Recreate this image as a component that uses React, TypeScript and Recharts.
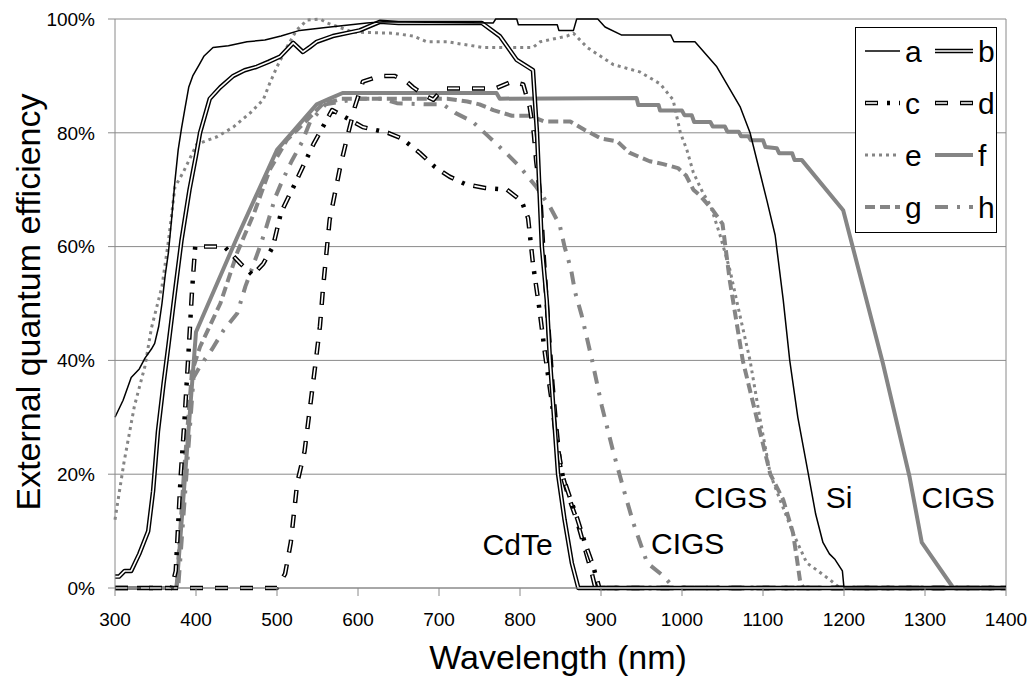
import { LineChart, Line, XAxis, YAxis, CartesianGrid, ReferenceLine, ReferenceDot } from 'recharts';

// wavelength (nm) / external quantum efficiency (%) pairs
const aWl = [300, 310, 320, 330, 337, 345, 349, 354, 358, 362, 366, 370, 374, 378, 382, 386, 391, 396, 404, 410, 421, 440, 463, 485, 505, 528, 560, 611, 631, 767, 770, 796, 798, 846, 848, 866, 870, 896, 905, 925, 986, 990, 1016, 1043, 1072, 1084, 1105, 1115, 1125, 1133, 1143, 1156, 1165, 1174, 1182, 1189, 1198, 1200, 1300, 1400];
const aEqe = [30, 33, 37, 38.5, 40.4, 42, 43, 46, 50, 55, 59, 65, 71.5, 77, 80.7, 84, 88, 90, 92, 93.5, 95, 95.3, 96, 96.3, 97, 98, 98.5, 99.3, 99.5, 99.3, 100, 100, 99, 99, 98, 98, 100, 100, 98.6, 97.2, 97.2, 96, 96, 91.6, 84.5, 80, 68, 62, 50.6, 40, 30, 20, 13, 8, 6, 5, 3, 0, 0, 0];

const bWl = [300, 305, 312, 320, 330, 341, 347, 353, 360, 366, 374, 382, 392, 400, 405, 417, 430, 446, 460, 475, 490, 504, 520, 532, 540, 549, 569, 602, 627, 650, 753, 775, 796, 816, 821, 827, 833, 837, 847, 855, 864, 872, 1000, 1100, 1200, 1300, 1400];
const bEqe = [2, 2, 3, 3, 6, 10, 17, 27.5, 36, 42.7, 52, 61, 70, 76, 80, 86, 88, 90, 91, 91.6, 92.5, 93.4, 95.8, 94.2, 95, 96, 97, 98, 99.5, 99.3, 99.3, 97, 92.8, 91, 80, 60, 50.6, 40, 20, 12, 4.4, 0, 0, 0, 0, 0, 0];

const cWl = [300, 370, 375, 381, 386, 391, 395, 399, 435, 455, 470, 483, 495, 505, 522, 545, 568, 586, 606, 637, 654, 676, 695, 713, 732, 757, 784, 802, 810, 816, 824, 831, 839, 845, 853, 870, 880, 890, 898, 1000, 1100, 1200, 1300, 1400];
const cEqe = [0, 0, 3, 19.5, 30, 42, 52, 60, 60, 57, 55, 57, 60, 66, 71, 78, 84, 82.6, 81, 80, 79, 76.5, 74, 72.3, 71, 70.3, 70, 68, 65, 57, 49, 41, 33, 26, 19.5, 12.5, 8, 4, 0, 0, 0, 0, 0, 0];

const dWl = [300, 500, 510, 517, 525, 534, 541, 548, 553, 557, 565, 578, 588, 596, 606, 627, 645, 660, 668, 682, 693, 705, 717, 770, 790, 804, 812, 817, 820, 825, 829, 833, 840, 845, 850, 860, 870, 880, 888, 893, 1000, 1100, 1200, 1300, 1400];
const dEqe = [0, 0, 2.5, 8, 18.5, 24, 32, 40, 46, 53, 64.7, 74, 80, 84.5, 89, 90, 90, 89, 88, 86.6, 85.8, 87.8, 87.8, 87.8, 89, 88.5, 84.5, 80, 75, 69, 59, 50, 36, 28, 21, 16, 12, 7, 3, 0, 0, 0, 0, 0, 0];

const eWl = [300, 311, 324, 337, 345, 358, 366, 374, 384, 401, 426, 446, 467, 483, 491, 500, 512, 524, 537, 553, 562, 594, 643, 668, 685, 710, 754, 816, 825, 858, 866, 883, 915, 948, 973, 989, 998, 1006, 1014, 1026, 1035, 1047, 1059, 1072, 1084, 1096, 1109, 1121, 1137, 1154, 1166, 1183, 1195, 1300, 1400];
const eEqe = [12, 22, 32, 39, 45.7, 53, 61, 70.5, 73, 78, 79.3, 81, 83.5, 85.8, 88.7, 91.6, 95, 98, 99.8, 100, 99.3, 97.7, 97.5, 97, 96, 96, 95, 95, 96, 97, 97.5, 95, 92, 90.7, 88.6, 85.8, 80, 77, 73, 69.4, 67.3, 62, 56, 47.6, 40, 30, 20, 15.5, 9.7, 4.4, 3.2, 1.4, 0, 0, 0];

const fWl = [300, 376, 400, 451, 500, 549, 565, 581, 771, 775, 944, 946, 971, 973, 1000, 1003, 1012, 1015, 1035, 1038, 1053, 1056, 1070, 1073, 1082, 1085, 1100, 1103, 1117, 1120, 1136, 1139, 1148, 1199, 1248, 1281, 1296, 1335, 1400];
const fEqe = [0, 0, 45, 61.7, 77, 85, 86, 87, 87, 86, 86.1, 84.9, 84.9, 83.9, 83.9, 83.1, 83.1, 81.9, 81.9, 81.1, 81.1, 80.2, 80.2, 79.4, 79.4, 78.7, 78.7, 77.5, 77.3, 76.4, 76.4, 75.2, 75.2, 66.4, 39.5, 19.5, 8, 0, 0];

const gWl = [300, 376, 385, 395, 405, 430, 451, 472, 491, 512, 541, 556, 580, 710, 735, 750, 767, 790, 812, 830, 862, 880, 900, 920, 935, 960, 977, 995, 1005, 1014, 1022, 1038, 1050, 1059, 1075, 1092, 1109, 1125, 1137, 1142, 1146, 1150, 1400];
const gEqe = [0, 0, 20, 38, 42.4, 50, 59, 66, 73.5, 78.7, 82.8, 85, 86, 86, 85.5, 85, 84, 83, 83, 82, 82, 80.5, 79, 78.5, 76.5, 75, 74.5, 73.8, 72.5, 70, 69, 66.4, 64, 54, 40, 30, 20, 15.5, 9.7, 5, 1, 0, 0];

const hWl = [300, 378, 397, 405, 420, 434, 451, 461, 479, 487, 498, 506, 518, 531, 541, 560, 600, 630, 648, 685, 705, 720, 741, 760, 781, 800, 820, 837, 849, 855, 863, 868, 876, 889, 901, 915, 930, 940, 957, 978, 990, 1400];
const hEqe = [0, 0, 37, 39, 42, 45.3, 48.3, 53, 60, 63.5, 68.7, 71.4, 75, 78.4, 82, 85, 86, 86, 85.2, 85, 85, 83.5, 82, 79.5, 76.7, 74, 70.5, 67, 63.8, 60, 56, 52, 48, 40, 32, 24, 16.3, 11.4, 4.4, 2, 0, 0];

const xTicks = [300, 400, 500, 600, 700, 800, 900, 1000, 1100, 1200, 1300, 1400];
const yTicks = [0, 20, 40, 60, 80, 100];
const cellLabels = ['CdTe', 'CIGS', 'CIGS', 'Si', 'CIGS'];

const BLACK = '#000';
const GRAY = '#858585';
const AXIS = '#8a8a8a';
const FONT = '"Liberation Sans", Arial, sans-serif';

type Stroke = { color: string; width: number; dash?: string; offset?: number };
type Series = { name: string; data: { x: number; y: number }[]; strokes: Stroke[] };

const pts = (wl: number[], eqe: number[]) => wl.map((x, i) => ({ x, y: eqe[i] }));

const series: Series[] = [
  { name: 'e', data: pts(eWl, eEqe), strokes: [{ color: GRAY, width: 3, dash: '3 4' }] },
  { name: 'f', data: pts(fWl, fEqe), strokes: [{ color: GRAY, width: 4 }] },
  { name: 'g', data: pts(gWl, gEqe), strokes: [{ color: GRAY, width: 4, dash: '10 5' }] },
  { name: 'h', data: pts(hWl, hEqe), strokes: [{ color: GRAY, width: 4, dash: '13 9 3 9' }] },
  { name: 'd', data: pts(dWl, dEqe), strokes: [{ color: BLACK, width: 4.5, dash: '13 12' }, { color: '#fff', width: 1.6, dash: '11 14', offset: 24 }] },
  { name: 'c', data: pts(cWl, cEqe), strokes: [{ color: BLACK, width: 4.5, dash: '13 9 3 9' }, { color: '#fff', width: 1.6, dash: '11 23', offset: 33 }] },
  { name: 'b', data: pts(bWl, bEqe), strokes: [{ color: BLACK, width: 4.5 }, { color: '#fff', width: 1.6 }] },
  { name: 'a', data: pts(aWl, aEqe), strokes: [{ color: BLACK, width: 1.5 }] },
];

const legendRows = [['a', 'b'], ['c', 'd'], ['e', 'f'], ['g', 'h']];

function LegendBox() {
  const byName = Object.fromEntries(series.map((s) => [s.name, s]));
  return (
    <svg width={142} height={206} style={{ position: 'absolute', left: 855, top: 27 }}>
      <rect x={0.5} y={0.5} width={141} height={205} fill="#fff" stroke="#000" />
      {legendRows.map((row, r) =>
        row.map((name, c) => {
          const x1 = c === 0 ? 10 : 80;
          const x2 = c === 0 ? 45 : 118;
          const ly = 24 + r * 52;
          return (
            <g key={name}>
              {byName[name].strokes.map((s, k) => (
                <line key={k} x1={x1} x2={x2} y1={ly} y2={ly} stroke={s.color} strokeWidth={s.width}
                  strokeDasharray={s.dash} strokeDashoffset={s.offset} />
              ))}
              <text x={x2 + 5} y={ly + 11} fontSize={30} fontFamily={FONT} fill="#000">{name}</text>
            </g>
          );
        })
      )}
    </svg>
  );
}

export default function App() {
  return (
    <div style={{ position: 'absolute', left: 0, top: 0, width: 1030, height: 677, background: '#fff' }}>
      <LineChart width={1030} height={677} margin={{ top: 19, right: 24, left: 0, bottom: 0 }}>
        <CartesianGrid vertical={false} stroke={AXIS} strokeWidth={1} />
        <XAxis type="number" dataKey="x" domain={[300, 1400]} ticks={xTicks} height={89}
          stroke={AXIS} tickSize={8} tickMargin={17}
          tick={{ fill: '#000', fontSize: 19, fontFamily: FONT }} />
        <YAxis type="number" domain={[0, 100]} ticks={yTicks} width={115}
          stroke={AXIS} tickSize={7} tickMargin={13} tickFormatter={(v) => `${v}%`}
          tick={{ fill: '#000', fontSize: 19, fontFamily: FONT }} />
        <ReferenceLine x={1400} stroke={AXIS} />
        {series.flatMap((s) =>
          s.strokes.map((st, k) => (
            <Line key={`${s.name}-${k}`} data={s.data} dataKey="y" type="linear"
              stroke={st.color} strokeWidth={st.width} strokeDasharray={st.dash} strokeDashoffset={st.offset}
              strokeLinecap="butt" strokeLinejoin="round"
              dot={false} activeDot={false} legendType="none" isAnimationActive={false} />
          ))
        )}
        <ReferenceDot x={797} y={7.7} r={0} fill="none" stroke="none"
          label={{ value: cellLabels[0], position: 'center', fontSize: 30, fontFamily: FONT, fill: '#000' }} />
        <ReferenceDot x={1007} y={7.9} r={0} fill="none" stroke="none"
          label={{ value: cellLabels[1], position: 'center', fontSize: 30, fontFamily: FONT, fill: '#000' }} />
        <ReferenceDot x={1060} y={16} r={0} fill="none" stroke="none"
          label={{ value: cellLabels[2], position: 'center', fontSize: 30, fontFamily: FONT, fill: '#000' }} />
        <ReferenceDot x={1194} y={16} r={0} fill="none" stroke="none"
          label={{ value: cellLabels[3], position: 'center', fontSize: 30, fontFamily: FONT, fill: '#000' }} />
        <ReferenceDot x={1341} y={16} r={0} fill="none" stroke="none"
          label={{ value: cellLabels[4], position: 'center', fontSize: 30, fontFamily: FONT, fill: '#000' }} />
      </LineChart>
      <LegendBox />
      <div style={{ position: 'absolute', left: 558, top: 657, transform: 'translate(-50%, -50%)', fontFamily: FONT, fontSize: 34, lineHeight: 1, whiteSpace: 'nowrap' }}>
        Wavelength (nm)
      </div>
      <div style={{ position: 'absolute', left: 28, top: 302, transform: 'translate(-50%, -50%) rotate(-90deg)', fontFamily: FONT, fontSize: 34, lineHeight: 1, whiteSpace: 'nowrap' }}>
        External quantum efficiency
      </div>
    </div>
  );
}
